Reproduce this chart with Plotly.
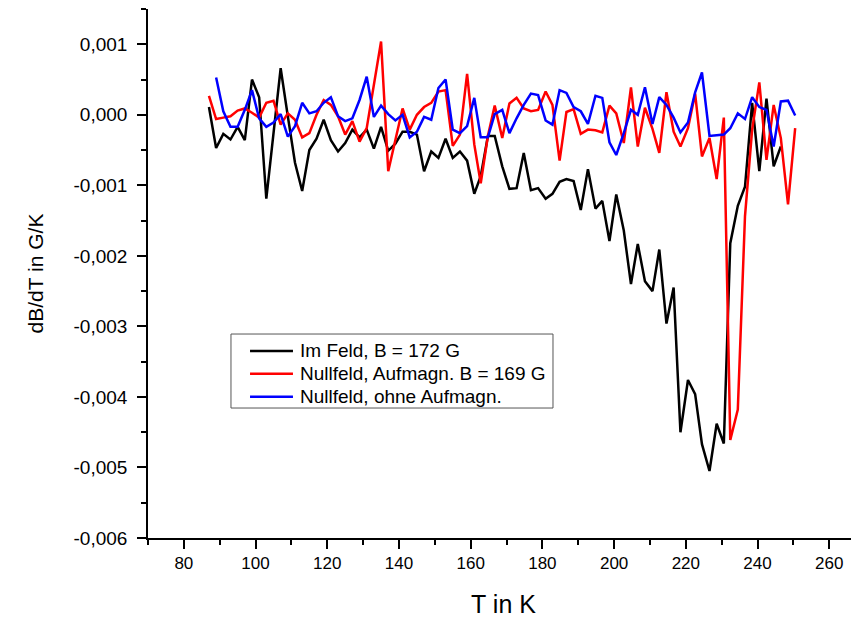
import plotly.graph_objects as go

# Temperature grid (K)
T_common = [87, 89, 91, 93, 95, 97, 99, 101, 103, 105, 107, 109, 111, 113, 115, 117, 119, 121, 123, 125,
            127, 129, 131, 133, 135, 137, 139, 141, 143, 145, 147, 149, 151, 153, 155, 157, 159, 161,
            162.8, 164.8, 166.7, 168.8, 170.8, 172.8, 174.8, 176.8, 178.8, 180.9, 182.8, 184.8, 186.7,
            188.7, 190.7, 192.7, 194.8, 196.7, 198.7, 200.6, 202.7, 204.7, 206.6, 208.6, 210.7, 212.6,
            214.6, 216.6, 218.5, 220.6, 222.6, 224.5, 226.6, 228.6, 230.6, 232.4, 234.5, 236.5, 238.5,
            240.5, 242.5, 244.5, 246.5, 248.5, 250.5]

# Im Feld, B = 172 G (87 K ... 246.5 K)
T_black = T_common[:81]
dBdT_black = [0.00011, -0.00047, -0.00027, -0.00035, -0.00017, -0.00036, 0.00050, 0.00025, -0.00119, -0.00026,
              0.00066, -0.00002, -0.00068, -0.00108, -0.00050, -0.00034, -0.00007, -0.00036, -0.00052, -0.00040,
              -0.00021, -0.00032, -0.00021, -0.00048, -0.00017, -0.00051, -0.00041, -0.00024, -0.00024, -0.00028,
              -0.00080, -0.00052, -0.00061, -0.00034, -0.00061, -0.00052, -0.00065, -0.00112,
              -0.00087, -0.00030, -0.00030, -0.00073, -0.00105, -0.00104, -0.00054, -0.00107, -0.00104, -0.00119,
              -0.00112, -0.00095, -0.00091, -0.00094, -0.00135, -0.00077, -0.00133, -0.00122, -0.00179, -0.00113,
              -0.00164, -0.00240, -0.00183, -0.00236, -0.00250, -0.00191, -0.00296, -0.00245, -0.00450, -0.00376,
              -0.00396, -0.00467, -0.00505, -0.00438, -0.00466, -0.00182, -0.00129, -0.00102, 0.00017, -0.00080,
              0.00023, -0.00073, -0.00045]

# Nullfeld, Aufmagn. B = 169 G (87 K ... 250.5 K)
T_red = T_common
dBdT_red = [0.00027, -0.00006, -0.00004, -0.00002, 0.00006, 0.00009, 0.00003, -0.00004, 0.00017, 0.00020,
            -0.00014, 0.00002, -0.00007, -0.00032, -0.00026, 0.00000, 0.00021, 0.00014, -0.00002, -0.00028,
            -0.00009, -0.00038, -0.00019, 0.00040, 0.00104, -0.00080, -0.00033, 0.00009, -0.00021, 0.00000,
            0.00011, 0.00017, 0.00033, 0.00035, -0.00044, -0.00028, 0.00058, -0.00042,
            -0.00097, -0.00030, 0.00013, -0.00033, 0.00016, 0.00024, 0.00009, 0.00005, 0.00007, 0.00033,
            0.00014, -0.00065, 0.00004, 0.00008, -0.00027, -0.00021, -0.00022, -0.00025, 0.00013, 0.00002,
            -0.00040, 0.00039, -0.00045, 0.00010, -0.00020, -0.00054, 0.00032, -0.00024, -0.00045, -0.00019,
            0.00030, -0.00059, -0.00033, -0.00091, -0.00004, -0.00461, -0.00418, -0.00144, -0.00021, 0.00046,
            -0.00064, 0.00014, -0.00033, -0.00127, -0.00019]

# Nullfeld, ohne Aufmagn. (89 K ... 250.5 K)
T_blue = T_common[1:]
dBdT_blue = [0.00053, 0.00005, -0.00017, -0.00017, 0.00007, 0.00035, -0.00005, -0.00017, -0.00011,
             0.00001, -0.00031, -0.00016, 0.00017, 0.00002, 0.00005, 0.00017, 0.00025, -0.00002, -0.00009,
             -0.00005, 0.00021, 0.00054, -0.00003, 0.00013, 0.00001, -0.00008, 0.00000, -0.00032, -0.00024,
             -0.00003, -0.00007, 0.00038, 0.00050, -0.00021, -0.00026, -0.00016, 0.00024,
             -0.00032, -0.00032, 0.00001, 0.00007, -0.00026, -0.00005, 0.00014, 0.00030, 0.00028, -0.00008,
             -0.00014, 0.00035, 0.00031, 0.00011, 0.00005, -0.00013, 0.00027, 0.00024, -0.00039, -0.00057,
             -0.00026, 0.00007, 0.00000, 0.00039, -0.00013, 0.00025, 0.00014, -0.00004, -0.00025, -0.00011,
             0.00032, 0.00060, -0.00030, -0.00029, -0.00028, -0.00019, 0.00002, -0.00006, 0.00025, 0.00011,
             0.00007, -0.00045, 0.00019, 0.00020, -0.00001]

names = ["Im Feld, B = 172 G", "Nullfeld, Aufmagn. B = 169 G", "Nullfeld, ohne Aufmagn."]
colors = ["#000000", "#ff0000", "#0000ff"]

y_tickvals = [0.001, 0.0, -0.001, -0.002, -0.003, -0.004, -0.005, -0.006]
y_ticktext = ["0,001", "0,000", "-0,001", "-0,002", "-0,003", "-0,004", "-0,005", "-0,006"]
x_tickvals = [80, 100, 120, 140, 160, 180, 200, 220, 240, 260]

FONT = "Arial, Liberation Sans, sans-serif"

fig = go.Figure()
for T, v, n, c in [(T_black, dBdT_black, names[0], colors[0]),
                   (T_red, dBdT_red, names[1], colors[1]),
                   (T_blue, dBdT_blue, names[2], colors[2])]:
    fig.add_trace(go.Scatter(x=T, y=v, mode="lines", name=n,
                             line=dict(color=c, width=2.5), showlegend=False))

# Legend drawn as a framed box (paper coordinates)
box = dict(x0=0.1167, x1=0.5696, y0=0.2457, y1=0.3856)
row_y = [0.3535, 0.3106, 0.2671]
fig.add_shape(type="rect", xref="paper", yref="paper", layer="above",
              line=dict(color="#555555", width=1), fillcolor="white", **box)
for n, c, ry in zip(names, colors, row_y):
    fig.add_shape(type="line", xref="paper", yref="paper", layer="above",
                  x0=0.1435, x1=0.2039, y0=ry, y1=ry, line=dict(color=c, width=2.5))
    fig.add_annotation(xref="paper", yref="paper", x=0.2110, y=ry, xanchor="left", yanchor="middle",
                       text=n, showarrow=False, font=dict(size=19, family=FONT, color="black"))

fig.update_layout(
    width=851, height=613,
    margin=dict(l=140, r=0, t=1, b=83),
    paper_bgcolor="white", plot_bgcolor="white",
    font=dict(family=FONT, color="black"),
    showlegend=False,
)
fig.update_xaxes(
    range=[70, 268.3], showgrid=False, zeroline=False,
    showline=True, linecolor="black", linewidth=1.6,
    ticks="outside", ticklen=9, tickwidth=1.5, tickcolor="black",
    tickvals=x_tickvals, tickfont=dict(size=17, family=FONT),
    minor=dict(dtick=10, tick0=70, ticks="outside", ticklen=5, tickwidth=1.5, tickcolor="black", showgrid=False),
    title=dict(text="T in K", font=dict(size=25, family=FONT), standoff=23),
)
fig.update_yaxes(
    range=[-0.006, 0.0015], showgrid=False, zeroline=False,
    showline=True, linecolor="black", linewidth=1.6,
    ticks="outside", ticklen=9, tickwidth=1.5, tickcolor="black",
    tickvals=y_tickvals, ticktext=y_ticktext, tickfont=dict(size=19, family=FONT),
    ticklabelstandoff=6,
    minor=dict(dtick=0.0005, tick0=0, ticks="outside", ticklen=5, tickwidth=1.5, tickcolor="black", showgrid=False),
    title=dict(text="dB/dT in G/K", font=dict(size=21, family=FONT), standoff=24),
)

fig.write_html("out.html")
